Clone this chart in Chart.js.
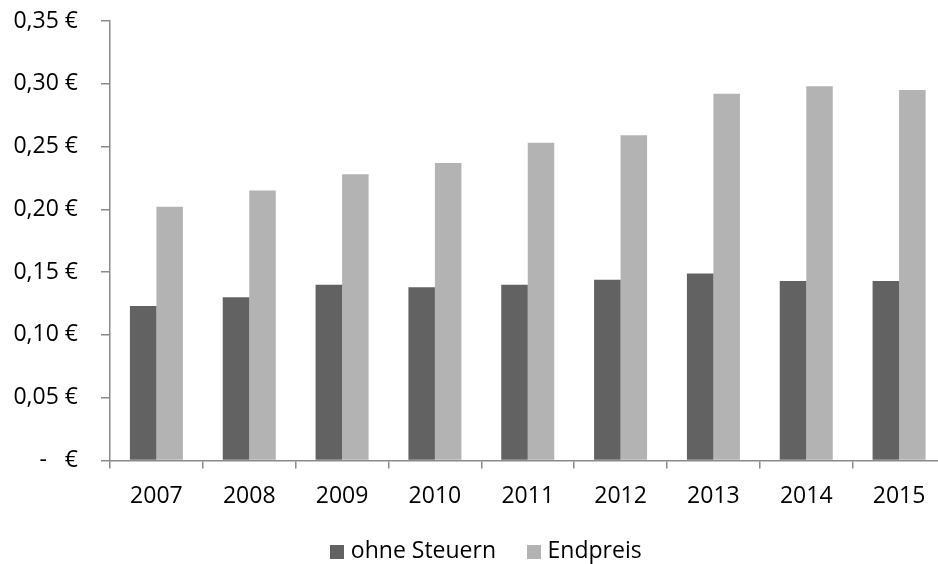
<!DOCTYPE html>
<html>
<head>
<meta charset="utf-8">
<script src="https://cdn.jsdelivr.net/npm/chart.js@4/dist/chart.umd.min.js"></script>
<style>
  html, body { margin: 0; padding: 0; background: #fff; overflow: hidden; width: 938px; height: 564px; }
  canvas { display: block; }
</style>
</head>
<body>
<canvas id="c" width="976" height="573" style="width:976px;height:573px"></canvas>
<script>
const years = ['2007', '2008', '2009', '2010', '2011', '2012', '2013', '2014', '2015'];
const ohneSteuern = [0.123, 0.130, 0.140, 0.138, 0.140, 0.144, 0.149, 0.143, 0.143];
const endpreis = [0.202, 0.215, 0.228, 0.237, 0.253, 0.259, 0.292, 0.298, 0.295];
const seriesNames = ['ohne Steuern', 'Endpreis'];
const seriesColors = ['#626262', '#b3b3b3'];

const FONT = { family: '"Open Sans", sans-serif', size: 23 };
const AXIS_COLOR = '#8a8a8a';

function squareIcon(color) {
  const cv = document.createElement('canvas');
  cv.width = 14; cv.height = 14;
  const g = cv.getContext('2d');
  g.fillStyle = color;
  g.fillRect(0, 0, 14, 14);
  return cv;
}
const icons = seriesColors.map(squareIcon);

new Chart(document.getElementById('c'), {
  type: 'bar',
  data: {
    labels: years,
    datasets: [
      { label: seriesNames[0], data: ohneSteuern, backgroundColor: seriesColors[0], borderWidth: 0 },
      { label: seriesNames[1], data: endpreis, backgroundColor: seriesColors[1], borderWidth: 0 }
    ]
  },
  options: {
    responsive: false,
    animation: false,
    devicePixelRatio: 1,
    datasets: { bar: { categoryPercentage: 0.571, barPercentage: 1.0 } },
    layout: { padding: { top: 21, left: 0, right: 0, bottom: 0 } },
    plugins: {
      tooltip: { enabled: false },
      legend: {
        position: 'bottom',
        labels: {
          font: FONT,
          color: '#000',
          usePointStyle: true,
          pointStyleWidth: 5,
          padding: 35,
          generateLabels: (chart) => chart.data.datasets.map((ds, i) => ({
            text: ds.label,
            fillStyle: ds.backgroundColor,
            strokeStyle: ds.backgroundColor,
            lineWidth: 0,
            pointStyle: icons[i],
            hidden: false,
            datasetIndex: i,
            fontColor: '#000'
          }))
        }
      }
    },
    scales: {
      x: {
        grid: { display: true, drawOnChartArea: false, drawTicks: true, tickLength: 8, color: AXIS_COLOR, lineWidth: 1.5, offset: true },
        border: { display: true, color: AXIS_COLOR, width: 1.5 },
        ticks: { font: FONT, color: '#000', padding: 14, maxRotation: 0, autoSkip: false },
        afterFit: (s) => { s.height = 44.5; s.paddingLeft = 0; s.paddingRight = 0; }
      },
      y: {
        min: 0,
        max: 0.35,
        ticks: {
          stepSize: 0.05,
          font: FONT,
          color: '#000',
          padding: 23,
          callback: (v) => Math.abs(v) < 1e-9 ? '-   €' : Number(v).toFixed(2).replace('.', ',') + ' €'
        },
        grid: { display: true, drawOnChartArea: false, drawTicks: true, tickLength: 9, color: AXIS_COLOR, lineWidth: 1.5 },
        border: { display: true, color: AXIS_COLOR, width: 1.5 },
        afterFit: (s) => { s.width = 110; s.paddingTop = 0; s.paddingBottom = 0; }
      },
      spacer: {
        type: 'linear',
        position: 'right',
        display: true,
        ticks: { display: false },
        grid: { display: false },
        border: { display: false },
        afterFit: (s) => { s.width = 30.5; s.paddingTop = 0; s.paddingBottom = 0; }
      }
    }
  }
});
</script>
</body>
</html>
